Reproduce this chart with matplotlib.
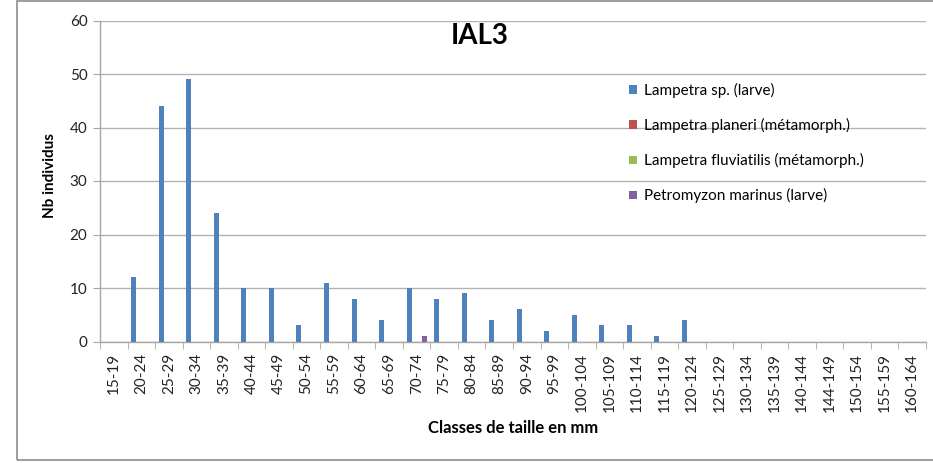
import matplotlib
matplotlib.use("Agg")
import matplotlib.pyplot as plt
import numpy as np
from matplotlib.patches import Rectangle

plt.rcParams['font.family'] = ['Lato', 'DejaVu Sans']

categories = ["15-19", "20-24", "25-29", "30-34", "35-39", "40-44", "45-49", "50-54",
              "55-59", "60-64", "65-69", "70-74", "75-79", "80-84", "85-89", "90-94",
              "95-99", "100-104", "105-109", "110-114", "115-119", "120-124", "125-129",
              "130-134", "135-139", "140-144", "144-149", "150-154", "155-159", "160-164"]
lampetra_sp = [0, 12, 44, 49, 24, 10, 10, 3, 11, 8, 4, 10, 8, 9, 4, 6, 2, 5, 3, 3, 1, 4,
               0, 0, 0, 0, 0, 0, 0, 0]
lampetra_planeri = [0] * 30
lampetra_fluviatilis = [0] * 30
petromyzon = [0, 0, 0, 0, 0, 0, 0, 0, 0, 0, 0, 1, 0, 0, 0, 0, 0, 0, 0, 0, 0, 0,
              0, 0, 0, 0, 0, 0, 0, 0]
series_names = ["Lampetra sp. (larve)", "Lampetra planeri (métamorph.)",
                "Lampetra fluviatilis (métamorph.)", "Petromyzon marinus (larve)"]
colors = ["#4F81BD", "#C0504D", "#9BBB59", "#8064A2"]

fig = plt.figure(figsize=(9.33, 4.63), dpi=100)
ax = fig.add_axes([100/933, 1-341.5/463, 826/933, 321/463])

x = np.arange(len(categories))
w = 5/27.5
data = [lampetra_sp, lampetra_planeri, lampetra_fluviatilis, petromyzon]
handles = []
for k, (vals, c, name) in enumerate(zip(data, colors, series_names)):
    b = ax.bar(x + (k - 1.5) * w, vals, width=w, color=c, label=name, zorder=3)
    handles.append(b)

ax.set_xlim(-0.5, len(categories) - 0.5)
ax.set_ylim(0, 60)
ax.set_yticks(range(0, 61, 10))
ax.grid(axis='y', color='#B3B3B3', linewidth=1, zorder=0)
for s in ['top', 'right']:
    ax.spines[s].set_visible(False)
for s in ['left', 'bottom']:
    ax.spines[s].set_color('#A6A6A6')
    ax.spines[s].set_linewidth(1)

ax.set_xticks(x)
ax.set_xticklabels(categories, rotation=90, fontsize=11)
ax.tick_params(axis='x', which='major', length=0, pad=8)
ax.set_xticks(np.arange(-0.5, len(categories), 1), minor=True)
ax.tick_params(axis='x', which='minor', length=5, color='#A6A6A6')
ax.tick_params(axis='y', length=5, color='#A6A6A6', labelsize=11, pad=4)
for lab in ax.get_yticklabels() + ax.get_xticklabels():
    lab.set_color('#222222')

fig.text(50/933, 1-176/463, "Nb individus", rotation=90, ha='center', va='center',
         fontsize=11, fontweight='bold')
fig.text(513/933, 1-428/463, "Classes de taille en mm", ha='center', va='center',
         fontsize=12, fontweight='bold')
fig.text(480/933, 1-36/463, "IAL3", ha='center', va='center', fontsize=20,
         fontweight='bold')

leg = ax.legend(handles=handles, loc='upper left', bbox_to_anchor=(623/933, 1-77/463),
                bbox_transform=fig.transFigure, frameon=False, fontsize=11,
                handlelength=0.5, handleheight=0.5, handletextpad=0.5,
                labelspacing=1.31, borderaxespad=0)

fig.patches.append(Rectangle((17/933, 1-460/463), 1.0, 459/463, transform=fig.transFigure,
                             fill=False, edgecolor='#8C8C8C', linewidth=1.2))

fig.savefig("out.png", dpi=100)
